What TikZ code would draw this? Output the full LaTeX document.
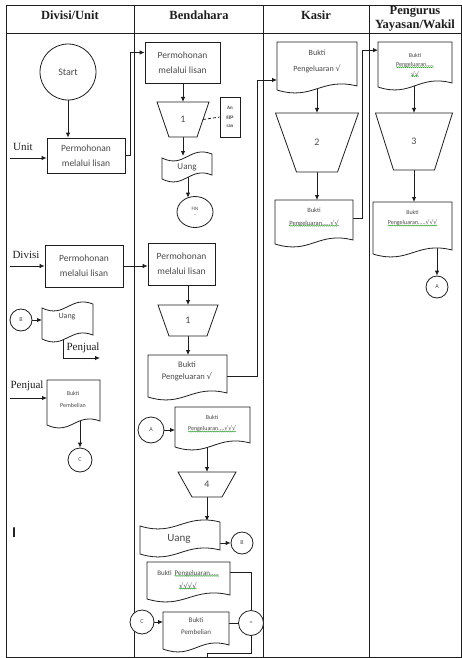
\documentclass[tikz,border=0pt]{standalone}
\usepackage{fontspec}
\setmainfont{Liberation Serif}
\newfontfamily\calfont{Carlito}
\newfontfamily\ckfont{DejaVu Sans}
\usetikzlibrary{calc,arrows.meta,shapes.geometric,decorations.pathmorphing}

\definecolor{ink}{HTML}{1E1E1E}
\definecolor{txt}{HTML}{4A4A4A}
\definecolor{spell}{HTML}{3FA33F}

\newcommand\ck{{\ckfont √}}

\pgfdeclarelayer{lines}
\pgfdeclarelayer{shapes}
\pgfsetlayers{lines,shapes,main}

% document symbol: flat top, wavy bottom
\newcommand\docoutline[1]{%
  \draw[shp] (#1.north west) -- (#1.north east) -- ($(#1.south east)+(0,7pt)$)
    .. controls ($(#1.south west)!0.55!(#1.south east)+(0,16pt)$)
    and ($(#1.south west)!0.45!(#1.south east)+(0,-8pt)$)
    .. ($(#1.south west)+(0,3pt)$) -- cycle;}
% punched tape symbol: wavy top and bottom
\newcommand\tapeoutline[1]{%
  \draw[shp] ($(#1.north west)+(0,-6pt)$)
    .. controls ($(#1.north west)!0.45!(#1.north east)+(0,-17pt)$)
    and ($(#1.north west)!0.55!(#1.north east)+(0,7pt)$)
    .. ($(#1.north east)+(0,-2pt)$)
    -- ($(#1.south east)+(0,7pt)$)
    .. controls ($(#1.south west)!0.55!(#1.south east)+(0,16pt)$)
    and ($(#1.south west)!0.45!(#1.south east)+(0,-8pt)$)
    .. ($(#1.south west)+(0,3pt)$) -- cycle;}
% manual operation symbol: inverted trapezoid
\newcommand\trapoutline[2]{%
  \draw[shp] (#1.north west) -- (#1.north east) -- ($(#1.south east)+(-#2,0)$)
    -- ($(#1.south west)+(#2,0)$) -- cycle;}
% green wavy spell-check mark under a text node
\newcommand\spellunder[1]{%
  \draw[spellmark] ($(#1.south west)+(0,0.6pt)$) -- ($(#1.south east)+(0,0.6pt)$);}

\tikzset{
  frame/.style={draw=ink, line width=0.9pt},
  hdr/.style={font=\bfseries\fontsize{12.5}{14.5}\selectfont, text=ink, inner sep=0pt, align=center},
  lbl/.style={font=\fontsize{11}{13}\selectfont, text=ink, inner sep=0pt},
  box/.style={draw=ink, line width=0.8pt, fill=white, inner sep=0pt, align=center,
    font=\calfont\fontsize{9.5}{15}\selectfont, text=txt},
  ghost/.style={draw=none, inner sep=0pt, outer sep=0pt},
  shp/.style={draw=ink, line width=0.8pt, fill=white},
  conn/.style={draw=ink, line width=0.8pt},
  arr/.style={conn, -{Latex[length=5pt,width=4.5pt]}},
  circ/.style={circle, draw=ink, line width=0.8pt, fill=white, inner sep=0pt,
    font=\calfont\fontsize{6}{6}\selectfont, text=txt},
  dtext/.style={font=\calfont\fontsize{6.5}{11}\selectfont, text=txt, align=center, inner sep=0pt},
  numlbl/.style={font=\calfont\fontsize{10}{12}\selectfont, text=txt},
  spellmark/.style={draw=spell, line width=0.45pt, decorate,
    decoration={snake, amplitude=0.55pt, segment length=2pt}},
}

\begin{document}
\begin{tikzpicture}[x=1pt,y=-1pt]
\useasboundingbox (0,0) rectangle (462,658);

% ---------- swimlane frame ----------
\begin{pgfonlayer}{lines}
  \draw[frame] (6,5) rectangle (461,657);
  \draw[frame] (6,33) -- (461,33);
  \draw[frame] (134,5) -- (134,657);
  \draw[frame] (263,5) -- (263,657);
  \draw[frame] (369,5) -- (369,657);
\end{pgfonlayer}
\node[hdr] (h1) at (70,15) {Divisi/Unit};
\node[hdr] (h2) at (199,15) {Bendahara};
\node[hdr] (h3) at (316,15) {Kasir};
\node[hdr] (h4) at (415,19) {Pengurus\\Yayasan/Wakil};

% ---------- Divisi/Unit ----------
\node[circ, minimum size=56pt, font=\calfont\fontsize{10}{12}\selectfont] (start) at (68,72) {Start};
\node[box, minimum width=78pt, minimum height=35pt] (ubox) at (86,155.5) {Permohonan\\melalui lisan};
\node[lbl] (unit) at (23,147) {Unit};
\coordinate (unitin) at (10,158);

\node[box, minimum width=78pt, minimum height=42pt] (dbox) at (84,266) {Permohonan\\melalui lisan};
\node[lbl] (divisi) at (26,255) {Divisi};
\coordinate (divin) at (10,266);

\node[circ, minimum size=22pt] (cb1) at (21,320) {B};
\node[ghost, minimum width=51pt, minimum height=40pt] (uang1) at (67.5,322) {};
\node[dtext, font=\calfont\fontsize{8}{10}\selectfont] (uang1t) at (67,317) {Uang};
\node[lbl] (jual1) at (83,348) {Penjual};
\coordinate (jualout) at (100,358);

\node[lbl] (jual2) at (27,386) {Penjual};
\coordinate (jualin) at (10,398);
\node[ghost, minimum width=53pt, minimum height=48pt] (bpem1) at (73.5,404) {};
\node[dtext, font=\calfont\fontsize{6}{12}\selectfont] (bpem1t) at (73,399) {Bukti\\Pembelian};
\node[circ, minimum size=24pt] (cc1) at (80,460) {C};

\node[lbl, font=\calfont\bfseries\fontsize{15}{16}\selectfont] (cursor) at (14,533) {I};

% ---------- Bendahara ----------
\node[box, minimum width=75pt, minimum height=41pt] (bb1) at (182.5,62.5) {Permohonan\\melalui lisan};
\node[ghost, minimum width=52pt, minimum height=35pt, numlbl] (tr1a) at (183,119.5) {1};
\node[draw=ink, line width=0.8pt, fill=white, minimum width=20pt, minimum height=40pt, inner sep=0pt,
  font=\calfont\bfseries\fontsize{5}{9}\selectfont, align=center, text=txt] (ang) at (230,117) {An\\gga\\ran};
\node[ghost, minimum width=50pt, minimum height=30pt] (uang2) at (187,167) {};
\node[dtext, font=\calfont\fontsize{9}{10}\selectfont] (uang2t) at (187,167) {Uang};
\node[ellipse, draw=ink, line width=0.8pt, fill=white, minimum width=36pt, minimum height=31pt, inner sep=0pt,
  font=\calfont\fontsize{5}{6}\selectfont, align=center, text=txt] (fin) at (195,212) {FIN\\-};

\node[box, minimum width=67pt, minimum height=42pt] (bb2) at (181.5,264) {Permohonan\\melalui lisan};
\node[ghost, minimum width=60pt, minimum height=31pt, numlbl] (tr1b) at (188,320.5) {1};
\node[ghost, minimum width=79pt, minimum height=45pt] (bpk1) at (187.5,377.5) {};
\node[dtext, font=\calfont\fontsize{8.5}{12}\selectfont] (bpk1t) at (187,371) {Bukti\\Pengeluaran \ck};

\node[circ, minimum size=26pt] (ca1) at (151,430) {A};
\node[ghost, minimum width=75pt, minimum height=43pt] (bpk3) at (212.5,428.5) {};
\node[dtext, font=\calfont\fontsize{6}{8}\selectfont] (bpk3a) at (212,417) {Bukti};
\node[dtext, font=\calfont\fontsize{6}{8}\selectfont] (bpk3b) at (212,429) {Pengeluaran....\ck\ck\ck};
\node[ghost, minimum width=58pt, minimum height=25pt, numlbl] (tr4) at (207,484.5) {4};
\node[ghost, minimum width=80pt, minimum height=37pt] (uang3) at (180,538.5) {};
\node[dtext, font=\calfont\fontsize{11}{12}\selectfont] (uang3t) at (179,539) {Uang};
\node[circ, minimum size=22pt] (cb2) at (242,543) {B};

\node[ghost, minimum width=83pt, minimum height=40pt] (bpk4) at (188.5,582) {};
\node[dtext, font=\calfont\fontsize{7}{8}\selectfont, anchor=base east] (bpk4a) at (172,575) {Bukti};
\node[dtext, font=\calfont\fontsize{7}{8}\selectfont, anchor=base west] (bpk4b) at (174.5,575) {Pengeluaran.....};
\node[dtext, font=\calfont\fontsize{7}{8}\selectfont] (bpk4c) at (188,586) {\ck\ck\ck\ck};
\node[circ, minimum size=24pt] (cc2) at (142,622) {C};
\node[ghost, minimum width=66pt, minimum height=40pt] (bpem2) at (196,632) {};
\node[dtext, font=\calfont\fontsize{7}{12}\selectfont] (bpem2t) at (196,626) {Bukti\\Pembelian};
\node[circ, minimum size=25pt] (merge) at (251,623) {=};
\coordinate (exitpt) at (207,657);

% ---------- Kasir ----------
\node[ghost, minimum width=80pt, minimum height=51pt] (kd1) at (317,67.5) {};
\node[dtext, font=\calfont\fontsize{8}{16}\selectfont] (kd1t) at (317,61.5) {Bukti\\Pengeluaran \ck};
\node[ghost, minimum width=83pt, minimum height=59pt, numlbl] (tr2) at (317,142.5) {2};
\node[ghost, minimum width=78pt, minimum height=47pt] (kd2) at (314,223.5) {};
\node[dtext] (kd2a) at (314,210) {Bukti};
\node[dtext] (kd2b) at (314,223) {Pengeluaran.....\ck\ck};

% ---------- Pengurus Yayasan/Wakil ----------
\node[ghost, minimum width=74pt, minimum height=48pt] (pd1) at (415,66) {};
\node[dtext, font=\calfont\fontsize{6}{8}\selectfont] (pd1a) at (415,55) {Bukti};
\node[dtext, font=\calfont\fontsize{6}{8}\selectfont] (pd1b) at (415,65) {Pengeluaran.....};
\node[dtext, font=\calfont\fontsize{6}{8}\selectfont] (pd1c) at (415,74) {\ck\ck};
\node[ghost, minimum width=77pt, minimum height=57pt, numlbl] (tr3) at (414,141.5) {3};
\node[ghost, minimum width=79pt, minimum height=55pt] (pd2) at (412.5,229.5) {};
\node[dtext, font=\calfont\fontsize{6}{8}\selectfont] (pd2a) at (412.5,212) {Bukti};
\node[dtext, font=\calfont\fontsize{6}{8}\selectfont] (pd2b) at (412.5,223) {Pengeluaran.....\ck\ck\ck};
\node[circ, minimum size=22pt] (ca2) at (437,287) {A};

% ---------- spell-check marks ----------
\spellunder{bpk3b}
\spellunder{bpk4b}
\spellunder{bpk4c}
\spellunder{kd2b}
\spellunder{pd1b}
\spellunder{pd1c}
\spellunder{pd2b}

% ---------- symbol outlines ----------
\begin{pgfonlayer}{shapes}
  \tapeoutline{uang1}
  \docoutline{bpem1}
  \trapoutline{tr1a}{12pt}
  \tapeoutline{uang2}
  \trapoutline{tr1b}{11pt}
  \docoutline{bpk1}
  \docoutline{bpk3}
  \trapoutline{tr4}{14pt}
  \tapeoutline{uang3}
  \docoutline{bpk4}
  \docoutline{bpem2}
  \docoutline{kd1}
  \trapoutline{tr2}{21pt}
  \docoutline{kd2}
  \docoutline{pd1}
  \trapoutline{tr3}{18pt}
  \docoutline{pd2}
\end{pgfonlayer}

% ---------- connectors ----------
\begin{pgfonlayer}{lines}
  % Divisi/Unit
  \draw[arr] (start.south) -- (start.south |- ubox.north);
  \draw[arr] (unitin) -- (unitin -| ubox.west);
  \draw[arr] (ubox.east) -- ++(5,0) |- ($(bb1.north west)!0.26!(bb1.south west)$);
  \draw[arr] (divin) -- (divin -| dbox.west);
  \draw[arr] (dbox.east) -- (dbox.east -| bb2.west);
  \draw[arr] (cb1.east) -- (cb1.east -| uang1.west);
  \draw[arr] ($(uang1.center)+(-4.5pt,0)$) |- (jualout);
  \draw[arr] (jualin) -- (jualin -| bpem1.west);
  \draw[arr] (cc1.north |- bpem1.center) -- (cc1.north);
  % Bendahara
  \draw[arr] (bb1.south -| tr1a.north) -- (tr1a.north);
  \draw[conn, dash pattern=on 3pt off 2pt] ($(tr1a.north east)!0.5!(tr1a.south east)+(-6pt,0)$) -- (ang.west);
  \draw[arr] (tr1a.south) -- ($(tr1a.south |- uang2.north)+(0,-4pt)$);
  \draw[arr] ($(uang2.center)+(1pt,0)$) -- ($(uang2.center |- fin.north)+(1pt,-1.5pt)$);
  \draw[arr] (tr1b.north |- bb2.south) -- (tr1b.north);
  \draw[arr] (tr1b.south) -- (tr1b.south |- bpk1.north);
  \draw[arr] ($(bpk1.north east)!0.47!(bpk1.south east)$) -- ++(30,0) |- ($(kd1.north west)!0.745!(kd1.south west)$);
  \draw[arr] (ca1.east) -- (ca1.east -| bpk3.west);
  \draw[arr] (tr4.north |- bpk3.center) -- (tr4.north);
  \draw[arr] (tr4.south) -- ($(tr4.south |- uang3.north)+(0,-1pt)$);
  \draw[arr] ($(uang3.east)+(0,-4.5pt)$) -- (cb2.west);
  \draw[conn] ($(bpk4.north east)!0.25!(bpk4.south east)$) -| (merge.north);
  \draw[arr] (cc2.east) -- (cc2.east -| bpem2.west);
  \draw[conn] (merge.west -| bpem2.east) -- (merge.west);
  \draw[conn] (merge.south) -- ++(0,17) -| (exitpt);
  % Kasir
  \draw[arr] (kd1.center) -- (tr2.north);
  \draw[arr] (tr2.south) -- (tr2.south |- kd2.north);
  \draw[arr] ($(kd2.north east)!0.4!(kd2.south east)$) -- ++(9,0) |- ($(pd1.north west)!0.17!(pd1.south west)$);
  % Pengurus Yayasan/Wakil
  \draw[arr] (tr3.north |- pd1.center) -- (tr3.north);
  \draw[arr] (tr3.south) -- (tr3.south |- pd2.north);
  \draw[arr] (ca2.north |- pd2.center) -- (ca2.north);
\end{pgfonlayer}
\end{tikzpicture}
\end{document}
